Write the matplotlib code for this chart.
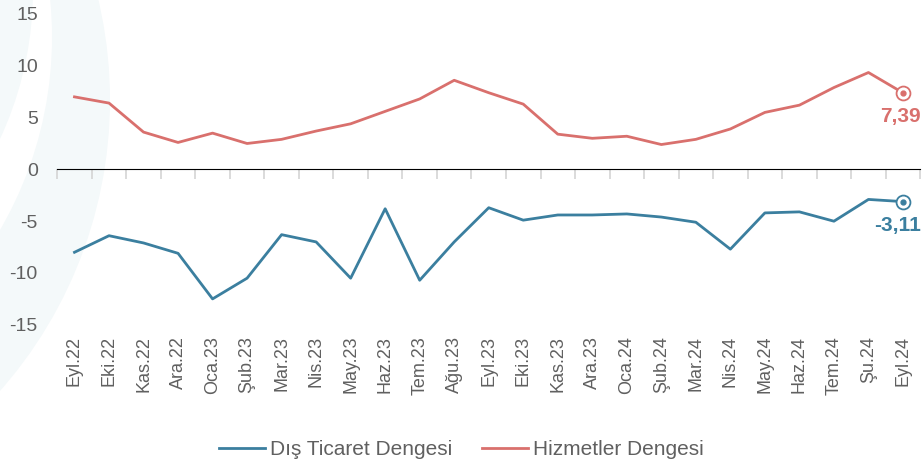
import matplotlib
matplotlib.use('Agg')
import matplotlib.pyplot as plt
from matplotlib.patches import Circle
from matplotlib.transforms import IdentityTransform

plt.rcParams['font.family'] = ['Liberation Sans', 'DejaVu Sans']
plt.rcParams['axes.unicode_minus'] = False

months = ['Eyl.22', 'Eki.22', 'Kas.22', 'Ara.22', 'Oca.23', 'Şub.23', 'Mar.23',
          'Nis.23', 'May.23', 'Haz.23', 'Tem.23', 'Ağu.23', 'Eyl.23', 'Eki.23',
          'Kas.23', 'Ara.23', 'Oca.24', 'Şub.24', 'Mar.24', 'Nis.24', 'May.24',
          'Haz.24', 'Tem.24', 'Şu.24', 'Eyl.24']

# Dış Ticaret Dengesi
dis_ticaret = [-8.0, -6.4, -7.1, -8.1, -12.5, -10.5, -6.3, -7.0, -10.5, -3.8,
               -10.7, -7.0, -3.7, -4.9, -4.4, -4.4, -4.3, -4.6, -5.1, -7.7,
               -4.2, -4.1, -5.0, -2.9, -3.11]
# Hizmetler Dengesi
hizmetler = [7.0, 6.4, 3.6, 2.6, 3.5, 2.5, 2.9, 3.7, 4.4, 5.6, 6.8, 8.6, 7.4,
             6.3, 3.4, 3.0, 3.2, 2.4, 2.9, 3.9, 5.5, 6.2, 7.9, 9.35, 7.39]

blue = '#3b7f9f'
red = '#d9706d'
gray_txt = '#606060'
tint = '#f4f9fa'

fig = plt.figure(figsize=(9.23, 4.66), dpi=100)

# faint decorative crescent shapes on the left (pixel coords)
for (cx, cy, r, fc, z) in [(-330, 366, 440, tint, -3),
                           (-332, 429, 384, 'white', -2),
                           (-320, 476, 353, tint, -1)]:
    fig.patches.append(Circle((cx, cy), r, transform=IdentityTransform(),
                              facecolor=fc, edgecolor='none', zorder=z))

ax = fig.add_axes([0.062, 0.303, 0.935, 0.667])
ax.patch.set_alpha(0)

x = list(range(len(months)))
ax.plot(x, dis_ticaret, color=blue, lw=2, label='Dış Ticaret Dengesi')
ax.plot(x, hizmetler, color=red, lw=2, label='Hizmetler Dengesi')

# end markers
for series, c in [(dis_ticaret, blue), (hizmetler, red)]:
    ax.plot(x[-1], series[-1], 'o', ms=10, mfc='white', mec=c, mew=1.3, zorder=5)
    ax.plot(x[-1], series[-1], 'o', ms=3.5, color=c, zorder=6)

ax.annotate(f'{hizmetler[-1]:.2f}'.replace('.', ','), (x[-1], hizmetler[-1]),
            xytext=(13, -10), textcoords='offset points', ha='right', va='top',
            color=red, fontsize=15, fontweight='bold')
ax.annotate(f'{dis_ticaret[-1]:.2f}'.replace('.', ','), (x[-1], dis_ticaret[-1]),
            xytext=(13, -10), textcoords='offset points', ha='right', va='top',
            color=blue, fontsize=15, fontweight='bold', annotation_clip=False)

ax.set_xlim(-0.5, len(months) - 0.5)
ax.set_ylim(-15, 15)
ax.set_yticks([-15, -10, -5, 0, 5, 10, 15])
ax.tick_params(axis='y', length=0, labelsize=14, labelcolor=gray_txt, pad=14)

ax.set_xticks(x)
ax.set_xticklabels(months, rotation=90, fontsize=13, color=gray_txt)
ax.tick_params(axis='x', length=0, pad=8)

for s in ax.spines.values():
    s.set_visible(False)

# zero axis line with ticks between categories
sec = ax.secondary_xaxis(0.5)
sec.set_xticks([i - 0.5 for i in range(len(months) + 1)])
sec.set_xticklabels([])
sec.xaxis.set_ticks_position('bottom')
sec.tick_params(axis='x', length=7, width=1.2, color='#d4d4d4', direction='out')
sec.spines['bottom'].set_color('#d4d4d4')
sec.spines['bottom'].set_linewidth(1.2)

fig.legend(loc='lower center', bbox_to_anchor=(0.5, -0.025), ncol=2, frameon=False,
           fontsize=15, labelcolor=gray_txt, handlelength=2.2, handletextpad=0.25,
           columnspacing=1.4)

fig.savefig('out.png', dpi=100)
